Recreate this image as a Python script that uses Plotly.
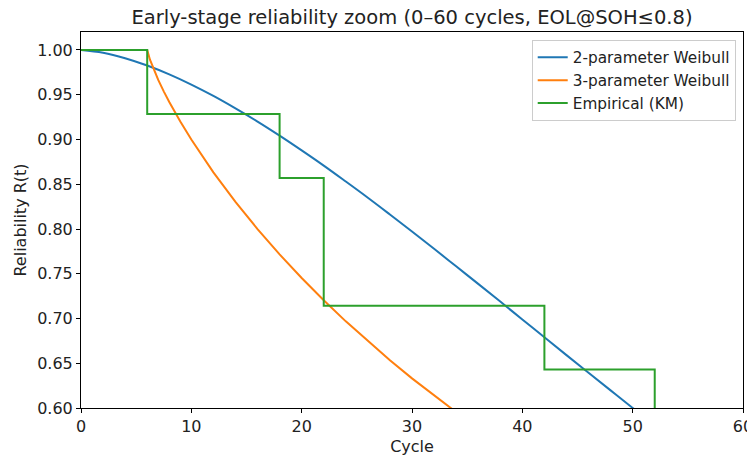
import plotly.graph_objects as go

# 2-parameter Weibull curve
t2 = [0, 2, 4, 6, 8, 10, 12, 14, 16, 18, 20, 22, 24, 26, 28, 30, 32, 34, 36, 38, 40, 42, 44, 46, 48, 50, 52]
r2 = [1.0, 0.9969, 0.9908, 0.9826, 0.9727, 0.9613, 0.9486, 0.9347, 0.9200, 0.9043, 0.8878, 0.8708,
      0.8530, 0.8349, 0.8162, 0.7972, 0.7779, 0.7583, 0.7387, 0.7189, 0.6989, 0.6790, 0.6591,
      0.6394, 0.6197, 0.6001, 0.5808]

# 3-parameter Weibull curve (location ~6 cycles)
t3 = [0, 6, 6.25, 6.5, 7, 7.5, 8, 9, 10, 12, 14, 16, 18, 20, 22, 24, 26, 28, 30, 32, 34, 36]
r3 = [1.0, 1.0, 0.9891, 0.9809, 0.9666, 0.9538, 0.9419, 0.9200, 0.8999, 0.8632, 0.8302, 0.7999,
      0.7716, 0.7452, 0.7204, 0.6968, 0.6746, 0.6534, 0.6331, 0.6139, 0.5954, 0.5777]

# Empirical Kaplan-Meier steps
tkm = [0, 6, 18, 22, 42, 52, 60]
rkm = [1.0, 0.9286, 0.8571, 0.7143, 0.6429, 0.5714, 0.5714]

y_ticks = [0.60, 0.65, 0.70, 0.75, 0.80, 0.85, 0.90, 0.95, 1.00]
x_ticks = [0, 10, 20, 30, 40, 50, 60]

fig = go.Figure()
fig.add_trace(go.Scatter(x=t2, y=r2, mode="lines", name="2-parameter Weibull",
                         line=dict(color="#1f77b4", width=2, shape="spline")))
fig.add_trace(go.Scatter(x=t3, y=r3, mode="lines", name="3-parameter Weibull",
                         line=dict(color="#ff7f0e", width=2)))
fig.add_trace(go.Scatter(x=tkm, y=rkm, mode="lines", name="Empirical (KM)",
                         line=dict(color="#2ca02c", width=2, shape="hv")))

axis_common = dict(showgrid=False, zeroline=False, showline=True, linecolor="black", linewidth=1,
                   mirror=True, ticks="outside", ticklen=4, tickcolor="black", automargin=False,
                   tickfont=dict(size=16, color="#222"))

fig.update_layout(
    width=747, height=448,
    margin=dict(l=73, r=12, t=24, b=48),
    paper_bgcolor="white", plot_bgcolor="white",
    font=dict(family="DejaVu Sans", color="#222"),
    title=dict(text="Early-stage reliability zoom (0–60 cycles, EOL@SOH≤0.8)",
               x=0.5, xanchor="center", xref="paper", y=0.994, yanchor="top",
               pad=dict(t=0, b=0), font=dict(size=19.5), automargin=False),
    xaxis=dict(range=[0, 60], tickvals=x_ticks, title=dict(text="Cycle", font=dict(size=16), standoff=6),
               **axis_common),
    yaxis=dict(range=[0.6, 1.0201], tickvals=y_ticks, tickformat=".2f",
               title=dict(text="Reliability R(t)", font=dict(size=16), standoff=6), **axis_common),
    legend=dict(x=0.989, y=0.979, xanchor="right", yanchor="top", bgcolor="rgba(255,255,255,0.85)",
                bordercolor="#cccccc", borderwidth=1, font=dict(size=15.3), tracegroupgap=0),
    showlegend=True,
)

fig.write_html("out.html")
